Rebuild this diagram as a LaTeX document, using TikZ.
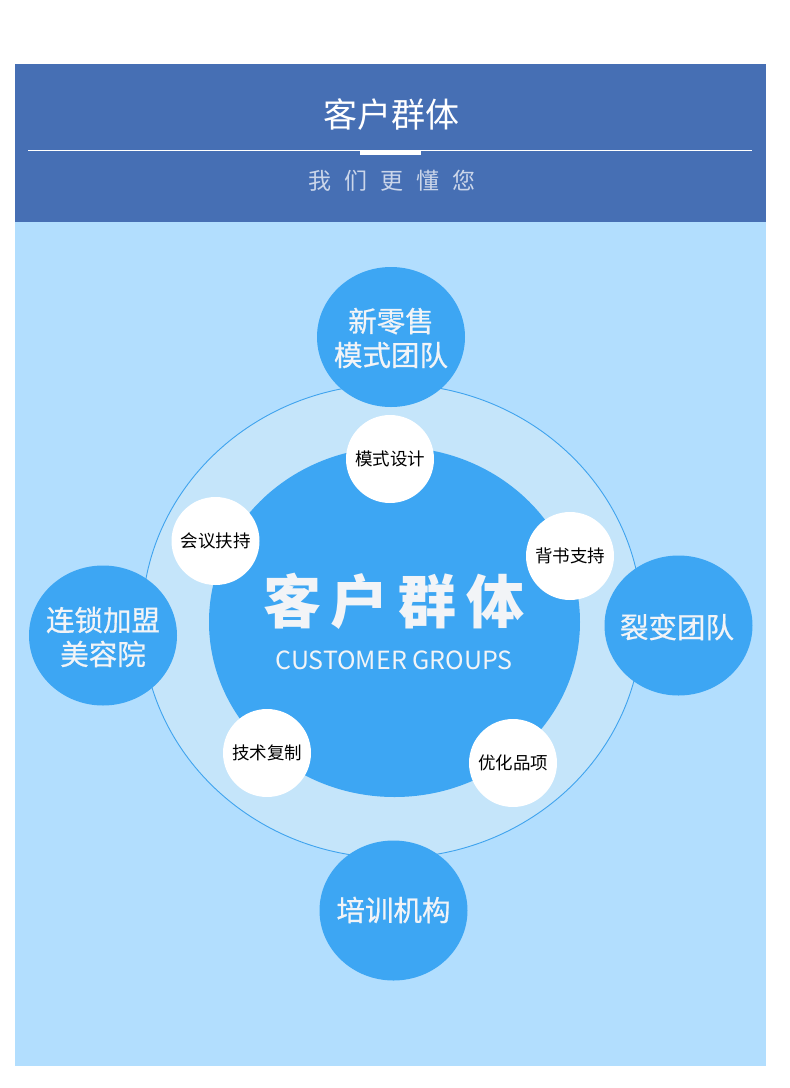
\documentclass[tikz,border=0pt]{standalone}
\usepackage{fontspec}
\setmainfont{Noto Sans CJK SC}
\newfontfamily\cjk{Noto Sans CJK SC}
\newfontfamily\cjkmed[FakeBold=0.7]{Noto Sans CJK SC}
\definecolor{headblue}{HTML}{466FB4}
\definecolor{panelblue}{HTML}{B2DEFE}
\definecolor{ringfill}{HTML}{C5E5FA}
\definecolor{ringline}{HTML}{3FA3EE}
\definecolor{ballblue}{HTML}{3DA6F3}
\definecolor{subgray}{HTML}{CBD6EA}
\definecolor{softwhite}{HTML}{F2F4F7}
\tikzset{
  balltext/.style={text=softwhite, align=center, inner sep=0pt, font=\cjkmed\fontsize{28.5}{34}\selectfont},
  smalltext/.style={text=black, inner sep=0pt, font=\cjk\fontsize{17.5}{20}\selectfont},
}
\begin{document}
\begin{tikzpicture}[x=1pt,y=-1pt]
\useasboundingbox (0,0) rectangle (790,1088);
\fill[white] (0,0) rectangle (790,1088);
% header
\fill[headblue] (15,64) rectangle (766,222);
\fill[panelblue] (15,222) rectangle (766,1066);
\node[text=white, inner sep=0pt, font=\cjk\fontsize{34}{40}\selectfont] (title) at (391,115) {客户群体};
\coordinate (lineL) at (28,150.5);
\coordinate (lineR) at (752,150.5);
\draw[white, line width=1pt] (lineL) -- (lineR);
\fill[white] (360,150) rectangle (421,154.5);
\node[text=subgray, inner sep=0pt, font=\cjk\fontsize{23}{26}\selectfont] (subtitle) at (392,180.5)
  {我\hspace{13pt}们\hspace{13pt}更\hspace{13pt}懂\hspace{13pt}您};
% ring and inner circle
\filldraw[fill=ringfill, draw=ringline, line width=0.9pt] (392,621) ellipse [x radius=250, y radius=237];
\fill[ballblue] (394.5,622) ellipse [x radius=185.5, y radius=175];
% outer blue balls
\fill[ballblue] (391,337) ellipse [x radius=74, y radius=70];
\fill[ballblue] (103,635.5) ellipse [x radius=74, y radius=70];
\fill[ballblue] (678.5,625.5) ellipse [x radius=74, y radius=70];
\fill[ballblue] (393.5,910.5) ellipse [x radius=74, y radius=70];
% white balls
\fill[white] (390,459) circle (44);
\fill[white] (570,556) circle (44);
\fill[white] (215.5,541) circle (44);
\fill[white] (267,753) circle (44);
\fill[white] (513,763) circle (44);
% centre text
\node[text=softwhite, inner sep=0pt, font=\cjk\bfseries\fontsize{58}{60}\selectfont] (bigtitle) at (394,601)
  {客\hspace{10pt}户\hspace{10pt}群\hspace{10pt}体};
\node[text=softwhite, inner sep=0pt, font=\cjk\fontsize{25}{28}\selectfont] (english) at (394,660) {CUSTOMER GROUPS};
% outer texts
\node[balltext] (ballT) at (391,338) {新零售\\模式团队};
\node[balltext] (ballL) at (103,637) {连锁加盟\\美容院};
\node[balltext] (ballR) at (677,627) {裂变团队};
\node[balltext] (ballB) at (393.5,910) {培训机构};
% small texts
\node[smalltext] (s1) at (390,459) {模式设计};
\node[smalltext] (s2) at (570,556) {背书支持};
\node[smalltext] (s3) at (215.5,541) {会议扶持};
\node[smalltext] (s4) at (267,753) {技术复制};
\node[smalltext] (s5) at (513,763) {优化品项};
\end{tikzpicture}
\end{document}
